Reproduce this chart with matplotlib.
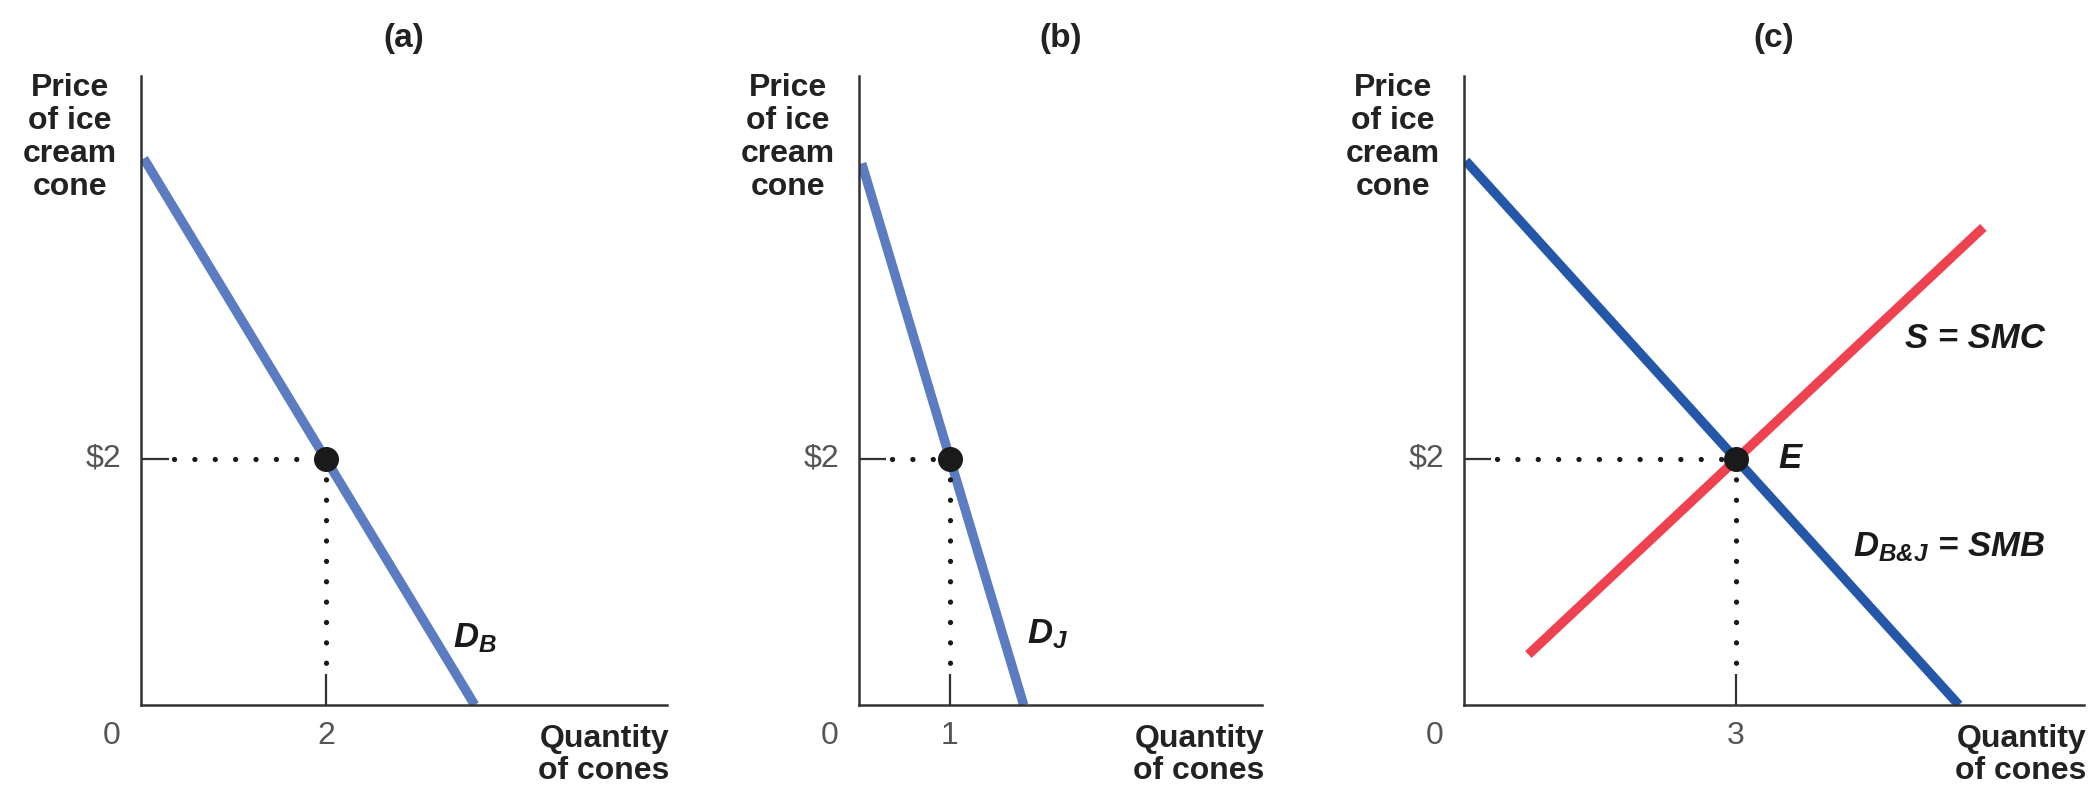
import matplotlib
matplotlib.use("Agg")
import matplotlib.pyplot as plt

plt.rcParams['font.family'] = ['Liberation Sans', 'DejaVu Sans']
plt.rcParams['mathtext.fontset'] = 'custom'
plt.rcParams['mathtext.it'] = 'Liberation Sans:italic:bold'
plt.rcParams['mathtext.rm'] = 'Liberation Sans:italic:bold'
plt.rcParams['mathtext.bf'] = 'Liberation Sans:bold'

# values
PRICE = 2
panel_titles = ['(a)', '(b)', '(c)']
eq_qty = [2, 1, 3]
price_label = '$2'

# demand / supply endpoints (quantity, price)
db_q, db_p = [0.03, 3.61], [4.44, 0.0]
dj_q, dj_p = [0.03, 1.81], [4.40, 0.0]
dbj_q, dbj_p = [0.02, 5.46], [4.42, 0.0]
s_q, s_p = [0.71, 5.73], [0.41, 3.88]

# layout (figure fractions) and axis ranges
W, H = 2094, 792
axes_px = [(141, 667), (859, 1262), (1464, 2084)]
y_top, y_bot = 76, 705
xmax = [5.69, 4.43, 6.84]
ymax = 5.11

LIGHT_BLUE = '#5b7cc0'
DARK_BLUE = '#2457a8'
RED = '#ee4250'
AX_COL = '#333333'
TICK_COL = '#555555'

fig = plt.figure(figsize=(W / 100, H / 100), dpi=100)

axes = []
for (x0, x1), xm in zip(axes_px, xmax):
    ax = fig.add_axes([x0 / W, (H - y_bot) / H, (x1 - x0) / W, (y_bot - y_top) / H])
    ax.set_xlim(0, xm)
    ax.set_ylim(0, ymax)
    for s in ['top', 'right']:
        ax.spines[s].set_visible(False)
    for s in ['left', 'bottom']:
        ax.spines[s].set_color(AX_COL)
        ax.spines[s].set_linewidth(1.8)
    ax.set_xticks([])
    ax.set_yticks([])
    ax.patch.set_alpha(0)
    axes.append(ax)


def decorate(ax, title, q, xm):
    # title
    ax.text(0.5, 1.0 + 37 / (y_bot - y_top), title, transform=ax.transAxes,
            ha='center', va='center', fontsize=24, fontweight='bold', color='#222222')
    # y label
    ax.annotate('Price\nof ice\ncream\ncone', xy=(0, 1), xycoords='axes fraction',
                xytext=(-51, 2), textcoords='offset points', ha='center', va='top',
                fontsize=23, fontweight='bold', linespacing=1.12, color='#222222')
    # x label
    ax.annotate('Quantity\nof cones', xy=(1, 0), xycoords='axes fraction',
                xytext=(2, -14), textcoords='offset points', ha='right', va='top',
                fontsize=23, fontweight='bold', linespacing=1.05, color='#222222')
    # tick labels
    ax.annotate('0', xy=(0, 0), xycoords='data', xytext=(-21, -22),
                textcoords='offset points', ha='center', va='center',
                fontsize=23, color=TICK_COL)
    ax.annotate(str(q), xy=(q, 0), xycoords='data', xytext=(0, -22),
                textcoords='offset points', ha='center', va='center',
                fontsize=23, color=TICK_COL)
    ax.annotate(price_label, xy=(0, PRICE), xycoords='data', xytext=(-14, 0),
                textcoords='offset points', ha='right', va='center',
                fontsize=23, color=TICK_COL)
    # short solid ticks, then dotted guides
    ax.plot([0, 0.3], [PRICE, PRICE], color=AX_COL, lw=1.6, solid_capstyle='butt', zorder=3)
    ax.plot([q, q], [0, 0.25], color=AX_COL, lw=1.6, solid_capstyle='butt', zorder=3)
    dots = dict(color='#1a1a1a', lw=3.8, linestyle=(0, (0.01, 3.85)),
                dash_capstyle='round', zorder=4)
    ax.plot([0.36, q], [PRICE, PRICE], **dots)
    ax.plot([q, q], [PRICE, 0.28], **dots)
    ax.plot([q], [PRICE], 'o', color='#1a1a1a', ms=17, zorder=6)


ax_a, ax_b, ax_c = axes
ax_a.plot(db_q, db_p, color=LIGHT_BLUE, lw=6.8, solid_capstyle='butt', zorder=2)
ax_b.plot(dj_q, dj_p, color=LIGHT_BLUE, lw=6.8, solid_capstyle='butt', zorder=2)
ax_c.plot(dbj_q, dbj_p, color=DARK_BLUE, lw=6.8, solid_capstyle='butt', zorder=2)
ax_c.plot(s_q, s_p, color=RED, lw=6.8, solid_capstyle='butt', zorder=2)

for ax, t, q, xm in zip(axes, panel_titles, eq_qty, xmax):
    decorate(ax, t, q, xm)

lab = dict(fontsize=25, color='#1a1a1a', fontweight='bold', style='italic')
ax_a.text(3.37, 0.47, r'$D_B$', ha='left', va='baseline', **lab)
ax_b.text(1.85, 0.50, r'$D_J$', ha='left', va='baseline', **lab)
ax_c.text(5.64, 2.98, 'S = SMC', ha='center', va='center', **lab)
ax_c.text(4.29, 1.21, r'$D_{B&J}$ = SMB', ha='left', va='baseline', **lab)
ax_c.text(3.47, PRICE, 'E', ha='left', va='center', **lab)

fig.savefig('out.png', dpi=100)
